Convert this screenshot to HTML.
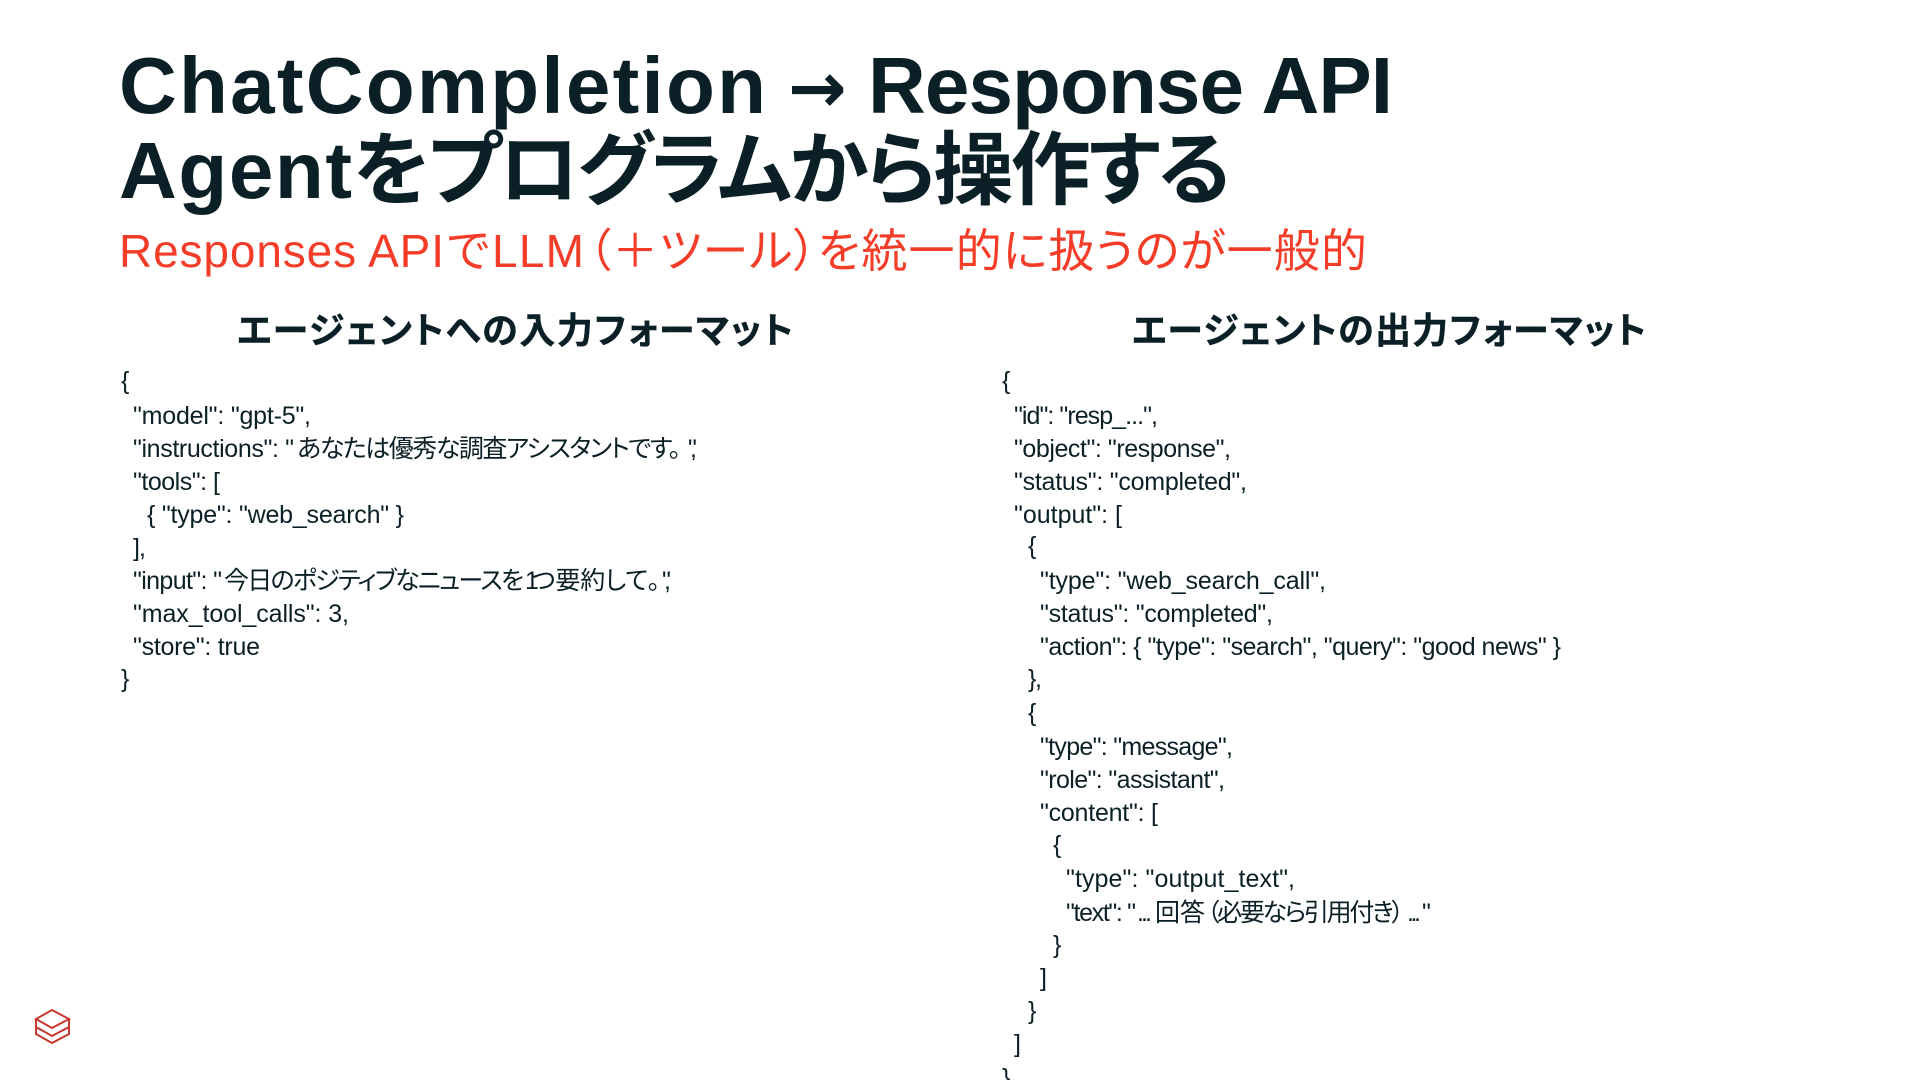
<!DOCTYPE html>
<html lang="ja"><head><meta charset="utf-8"><title>ChatCompletion → Response API</title>
<style>
html,body{margin:0;padding:0;background:#fff;width:1920px;height:1080px;overflow:hidden}
svg{display:block}
text{font-family:"Liberation Sans","Noto Sans CJK JP",sans-serif;fill:#0b2026;font-feature-settings:"palt"}
.t{font-size:80px;font-weight:700}
.a{font-family:"DejaVu Sans",sans-serif;font-size:70px;font-weight:700}
.s{font-size:46px;fill:#f43d28}
.h{font-size:36px;font-weight:700;stroke:#0b2026;stroke-width:.4px}
.c{font-size:25px}
</style></head><body>
<svg width="1920" height="1080" viewBox="0 0 1920 1080" xmlns="http://www.w3.org/2000/svg">
<text class="t" x="119" y="113" textLength="647">ChatCompletion</text>
<text class="a" x="788" y="112" textLength="60">→</text>
<text class="t" x="868" y="113" textLength="525">Response API</text>
<text class="t" x="119" y="198" textLength="233">Agent</text>
<text class="t" x="353" y="198" textLength="878">をプログラムから操作する</text>
<text class="s" x="119" y="267" textLength="325">Responses API</text>
<text class="s" x="447" y="267" textLength="42">で</text>
<text class="s" x="492" y="267" textLength="92">LLM</text>
<text class="s" x="588" y="267" textLength="779">（＋ツール）を統一的に扱うのが一般的</text>
<text class="h" x="237" y="343" textLength="556">エージェントへの入力フォーマット</text>
<text class="h" x="1132" y="343" textLength="514">エージェントの出力フォーマット</text>

<text class="c" x="121" y="389">{</text>
<text class="c" x="133" y="424" textLength="178">"model": "gpt-5",</text>
<text class="c" x="133" y="457" textLength="161">"instructions": "</text>
<text class="c" x="297" y="457" textLength="384">あなたは優秀な調査アシスタントです。</text>
<text class="c" x="688" y="457" textLength="9">",</text>
<text class="c" x="133" y="490" textLength="87">"tools": [</text>
<text class="c" x="147" y="523" textLength="257">{ "type": "web_search" }</text>
<text class="c" x="133" y="556" textLength="13">],</text>
<text class="c" x="133" y="589" textLength="89">"input": "</text>
<text class="c" x="224" y="589" textLength="300">今日のポジティブなニュースを</text>
<text class="c" x="525" y="589" textLength="7">1</text>
<text class="c" x="532" y="589" textLength="128">つ要約して。</text>
<text class="c" x="662" y="589" textLength="9">",</text>
<text class="c" x="133" y="622" textLength="216">"max_tool_calls": 3,</text>
<text class="c" x="133" y="655" textLength="127">"store": true</text>
<text class="c" x="121" y="687">}</text>

<text class="c" x="1002" y="389">{</text>
<text class="c" x="1014" y="424" textLength="144">"id": "resp_...",</text>
<text class="c" x="1014" y="457" textLength="217">"object": "response",</text>
<text class="c" x="1014" y="490" textLength="233">"status": "completed",</text>
<text class="c" x="1014" y="523" textLength="108">"output": [</text>
<text class="c" x="1028" y="554">{</text>
<text class="c" x="1040" y="589" textLength="286">"type": "web_search_call",</text>
<text class="c" x="1040" y="622" textLength="233">"status": "completed",</text>
<text class="c" x="1040" y="655" textLength="521">"action": { "type": "search", "query": "good news" }</text>
<text class="c" x="1028" y="687" textLength="14">},</text>
<text class="c" x="1028" y="721">{</text>
<text class="c" x="1040" y="755" textLength="193">"type": "message",</text>
<text class="c" x="1040" y="788" textLength="185">"role": "assistant",</text>
<text class="c" x="1040" y="821" textLength="118">"content": [</text>
<text class="c" x="1053" y="853">{</text>
<text class="c" x="1066" y="887" textLength="229">"type": "output_text",</text>
<text class="c" x="1066" y="921" textLength="70">"text": "</text>
<text class="c" x="1137" y="921" textLength="15">...</text>
<text class="c" x="1155" y="921" textLength="50">回答</text>
<text class="c" x="1207" y="921" textLength="197">（必要なら引用付き）</text>
<text class="c" x="1407" y="921" textLength="14">...</text>
<text class="c" x="1422" y="921" textLength="6">"</text>
<text class="c" x="1053" y="953">}</text>
<text class="c" x="1040" y="986">]</text>
<text class="c" x="1028" y="1019">}</text>
<text class="c" x="1014" y="1052">]</text>
<text class="c" x="1002" y="1086">}</text>

<g fill="none" stroke="#c4392c" stroke-width="2">
<polygon points="52,1010 69,1019 52,1028 36,1019"/>
<polyline points="36,1019 36,1027 52,1036 69,1027 69,1019"/>
<polyline points="36,1027 36,1034 52,1043 69,1034 69,1027"/>
</g>
</svg>
</body></html>
